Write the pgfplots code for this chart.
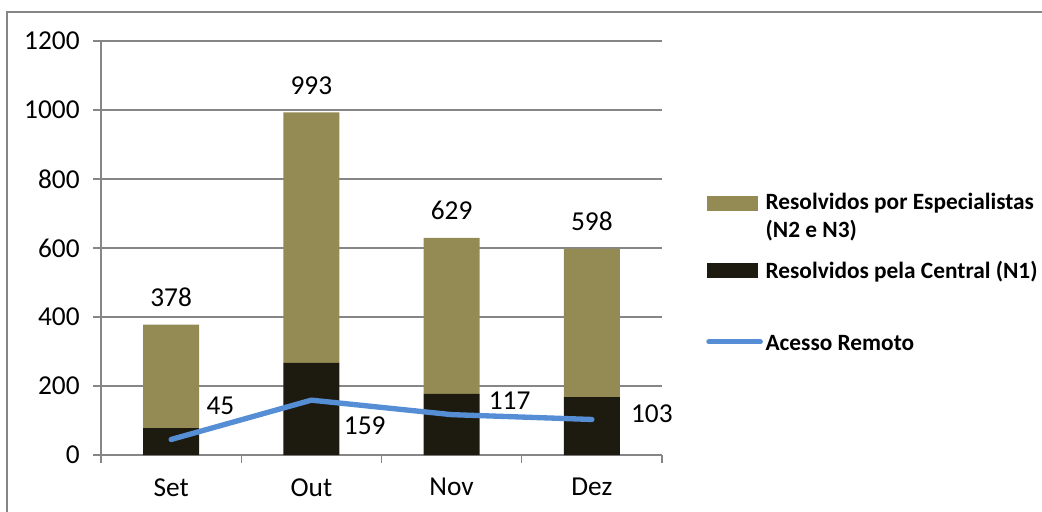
\documentclass[border=0pt]{standalone}
\usepackage{pgfplots}
\usepackage{pgfplotstable}
\pgfplotsset{compat=1.18}
\usepackage{fontspec}
\setmainfont{Carlito}

\definecolor{olivebar}{RGB}{148,138,84}
\definecolor{darkbar}{RGB}{29,27,16}
\definecolor{remoto}{RGB}{85,142,213}
\definecolor{gridgray}{RGB}{134,134,134}

% chamados por mes
\pgfplotstableread{
x n1 n23 total
1 78 300 378
2 267 726 993
3 177 452 629
4 168 430 598
}\chamados

% acesso remoto, com deslocamento dos rotulos (pt)
\pgfplotstableread{
x y dx dy
1 45 37 25
2 159 40 -19
3 117 43.5 10.5
4 103 45 4.5
}\remotos

\tikzset{rotulo/.style={font=\fontsize{20.5}{24}\selectfont, text=black}}
\pgfplotsset{
  base/.style={
    at={(75.75pt,42pt)}, anchor=south west,
    scale only axis, width=420.75pt, height=310.5pt,
    xmin=0.5, xmax=4.5, ymin=0, ymax=1200,
    /pgf/number format/assume math mode=true,
    /pgf/number format/1000 sep={},
  },
}

\begin{document}
\begin{tikzpicture}
\useasboundingbox (0,0) rectangle (781.5pt,383.25pt);
\draw[gridgray, line width=0.8pt] (5.25pt,-5pt) |- (790pt,374.25pt);

\begin{axis}[
  base,
  ybar stacked, bar width=42pt,
  axis x line*=bottom, axis y line*=left,
  axis line style={gridgray, line width=0.9pt},
  tick align=outside,
  major tick length=6pt, minor tick length=6pt,
  tick style={gridgray, line width=0.9pt},
  ytick={0,200,...,1200},
  ymajorgrids, grid style={gridgray, line width=0.9pt},
  xtick={1,2,3,4}, xticklabels={Set,Out,Nov,Dez},
  major x tick style={draw=none},
  minor xtick={0.5,1.5,2.5,3.5,4.5},
  tick label style={rotulo},
  yticklabel style={xshift=-6.5pt},
  xticklabel style={yshift=-8pt},
  legend cell align=left,
  legend style={draw=none, fill=none, at={(1,0.439)}, anchor=west,
    xshift=30pt, font=\bfseries\fontsize{17.5}{21}\selectfont,
    cells={align=left}, row sep=11.75pt},
]
\addlegendimage{legend image code/.code={\fill[olivebar] (0pt,4.5pt) rectangle (37.5pt,15pt);}}
\addlegendentry{Resolvidos por Especialistas\\(N2 e N3)}
\addlegendimage{legend image code/.code={\fill[darkbar] (0pt,-5.25pt) rectangle (37.5pt,5.25pt);}}
\addlegendentry{Resolvidos pela Central (N1)}
\addlegendimage{legend image code/.code={\draw[remoto, line width=4pt, line cap=round] (1pt,-11pt) -- (39.5pt,-11pt);}}
\addlegendentry{\rule{0pt}{37.25pt}Acesso Remoto}

\addplot[fill=darkbar, draw=none] table[x=x, y=n1] {\chamados};
\addplot[fill=olivebar, draw=none] table[x=x, y=n23] {\chamados};
\end{axis}

\begin{axis}[base, hide axis]
% totais acima das barras
\addplot[draw=none, nodes near coords, point meta=explicit,
  nodes near coords style={anchor=base, yshift=13.5pt, inner sep=0pt, rotulo}]
  table[x=x, y=total, meta=total] {\chamados};
% acesso remoto
\addplot[remoto, line width=4pt, line cap=round, line join=round,
  nodes near coords, point meta=explicit,
  visualization depends on={\thisrow{dx}\as\dx},
  visualization depends on={\thisrow{dy}\as\dy},
  nodes near coords style={anchor=center, inner sep=0pt,
    xshift=\dx pt, yshift=\dy pt, rotulo}]
  table[x=x, y=y, meta=y] {\remotos};
\end{axis}
\end{tikzpicture}
\end{document}
